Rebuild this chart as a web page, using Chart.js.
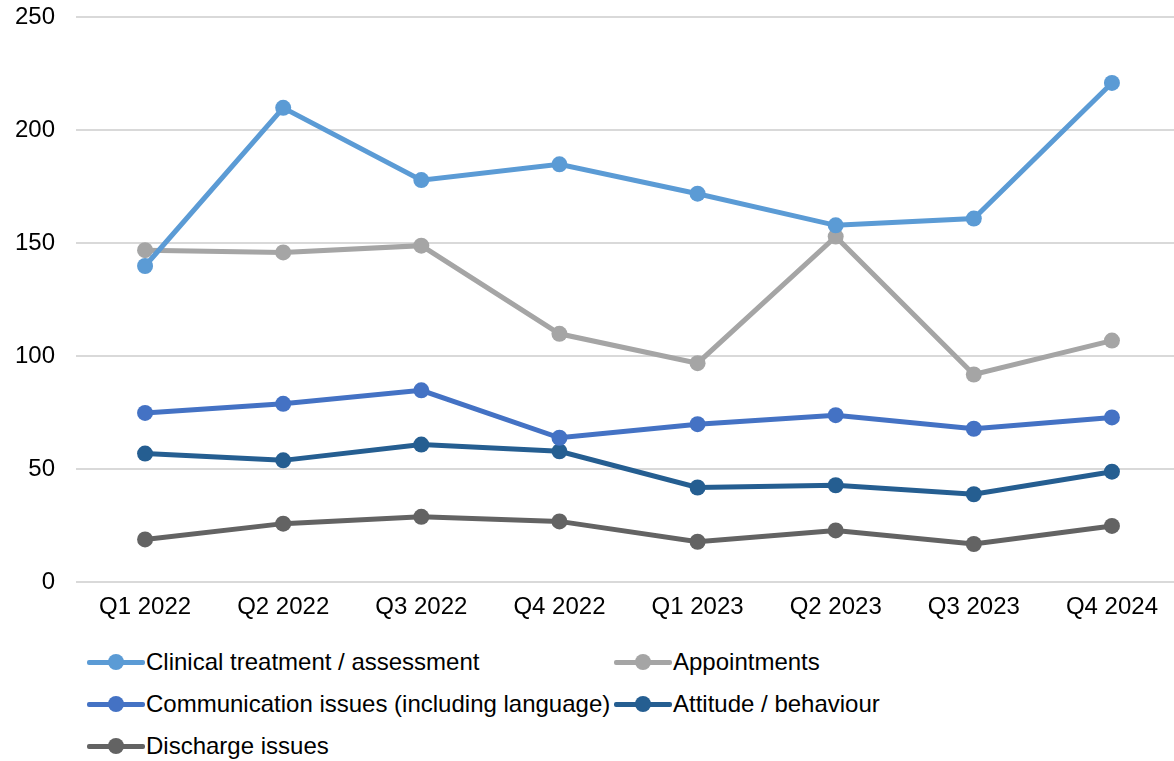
<!DOCTYPE html>
<html>
<head>
<meta charset="utf-8">
<script src="https://cdn.jsdelivr.net/npm/chart.js@4"></script>
<style>
  html, body { margin: 0; padding: 0; background: #fff; overflow: hidden; }
  body { width: 1174px; height: 761px; position: relative; font-family: "Liberation Sans", Arial, sans-serif; }
  #wrap { position: absolute; left: 0; top: 0; width: 1189px; height: 640px; }
  #legend { position: absolute; left: 87px; top: 641px; display: grid; grid-template-columns: 527px 400px; grid-auto-rows: 42px; }
  .item { display: flex; align-items: center; font-size: 24px; color: #000; white-space: nowrap; }
  .swatch { position: relative; width: 58px; height: 16px; margin-right: 1px; }
  .swatch .ln { position: absolute; left: 0; right: 0; top: 6px; height: 5px; border-radius: 2px; }
  .swatch .dot { position: absolute; left: 21px; top: 0; width: 16px; height: 16px; border-radius: 50%; }
</style>
</head>
<body>
<div id="wrap"><canvas id="chart"></canvas></div>
<div id="legend"></div>
<script>
const quarters = ['Q1 2022', 'Q2 2022', 'Q3 2022', 'Q4 2022', 'Q1 2023', 'Q2 2023', 'Q3 2023', 'Q4 2024'];

const clinical = [140, 210, 178, 185, 172, 158, 161, 221];
const appointments = [147, 146, 149, 110, 97, 153, 92, 107];
const communication = [75, 79, 85, 64, 70, 74, 68, 73];
const attitude = [57, 54, 61, 58, 42, 43, 39, 49];
const discharge = [19, 26, 29, 27, 18, 23, 17, 25];

const seriesNames = ['Clinical treatment / assessment', 'Appointments', 'Communication issues (including language)', 'Attitude / behaviour', 'Discharge issues'];
const seriesColors = ['#5B9BD5', '#A5A5A5', '#4472C4', '#255E91', '#636363'];

const seriesData = [clinical, appointments, communication, attitude, discharge];

const datasets = seriesData.map((d, i) => ({
  label: seriesNames[i],
  data: d,
  borderColor: seriesColors[i],
  backgroundColor: seriesColors[i],
  borderWidth: 5,
  pointRadius: 8,
  pointHoverRadius: 8,
  pointBorderWidth: 0,
  tension: 0,
  clip: false,
  order: i
}));

Chart.defaults.font.family = '"Liberation Sans", Arial, sans-serif';
Chart.defaults.font.size = 24;
Chart.defaults.color = '#000';

const chart = new Chart(document.getElementById('chart'), {
  type: 'line',
  data: { labels: quarters, datasets: datasets },
  options: {
    responsive: true,
    maintainAspectRatio: false,
    animation: false,
    layout: { padding: { top: 0, left: 0, right: 0, bottom: 0 } },
    plugins: {
      legend: { display: false },
      tooltip: { enabled: false }
    },
    scales: {
      x: {
        offset: true,
        grid: { display: false, drawTicks: false },
        border: { display: false },
        ticks: { padding: 11, maxRotation: 0, autoSkip: false },
        afterFit: (axis) => { axis.height = 58; }
      },
      y: {
        min: 0,
        max: 250,
        grid: { color: '#D9D9D9', lineWidth: 2, drawTicks: false },
        border: { display: false },
        ticks: { stepSize: 50, padding: 21 },
        afterFit: (axis) => { axis.width = 76; }
      }
    }
  }
});

// nudge the canvas so the 250 gridline lands where it is in the original
const shift = 17 - chart.chartArea.top;
document.getElementById('wrap').style.top = shift + 'px';
document.getElementById('wrap').style.height = (640 - shift) + 'px';
chart.resize();

// legend in two columns, like the original
const legend = document.getElementById('legend');
seriesNames.forEach((name, i) => {
  const item = document.createElement('div');
  item.className = 'item';
  item.innerHTML = '<span class="swatch"><span class="ln" style="background:' + seriesColors[i] + '"></span>' +
    '<span class="dot" style="background:' + seriesColors[i] + '"></span></span>' + name;
  legend.appendChild(item);
});
</script>
</body>
</html>
